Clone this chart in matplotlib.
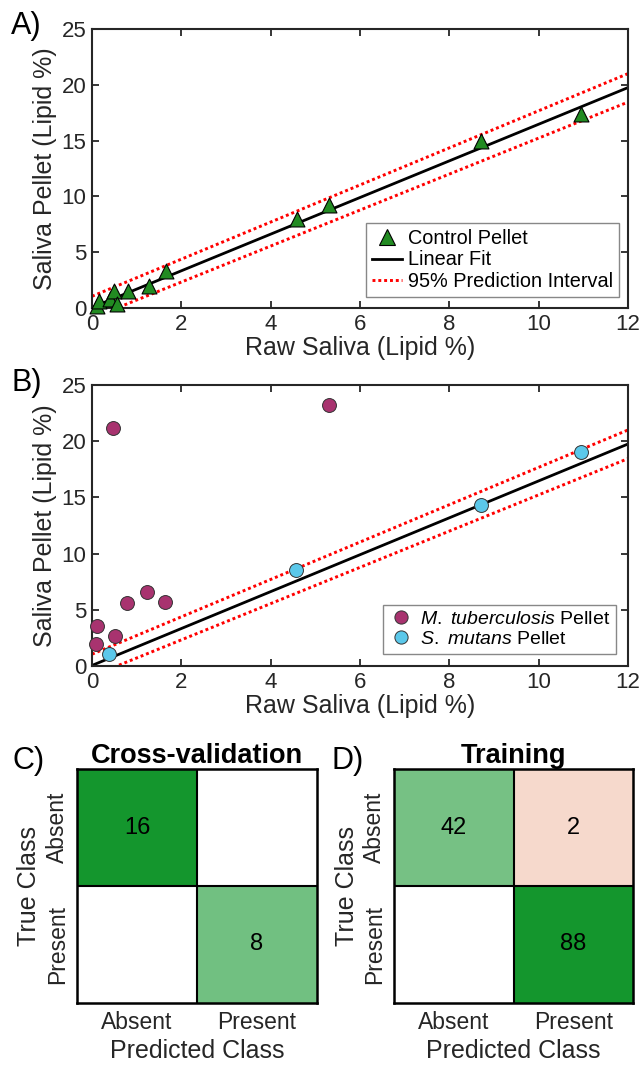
import numpy as np
import matplotlib
matplotlib.use("Agg")
import matplotlib.pyplot as plt
from matplotlib.lines import Line2D

plt.rcParams['font.family'] = ['Liberation Sans', 'DejaVu Sans']
plt.rcParams['mathtext.fontset'] = 'custom'
plt.rcParams['mathtext.it'] = 'Liberation Sans:italic'
plt.rcParams['mathtext.rm'] = 'Liberation Sans'

# ---------------- data ----------------
ctrl_x = [0.12, 0.15, 0.40, 0.50, 0.55, 0.80, 1.28, 1.65, 4.60, 5.30, 8.70, 10.95]
ctrl_y = [0.20, 0.60, 0.80, 1.50, 0.40, 1.50, 2.00, 3.35, 7.95, 9.20, 15.00, 17.40]

fit_x = [0, 12]
fit_y = [0.05, 19.75]
pi_upper = [1.05, 21.00]
pi_lower = [-0.90, 18.45]

mtb_x = [0.12, 0.10, 0.52, 0.79, 1.24, 1.63, 0.47, 5.30]
mtb_y = [3.59, 1.93, 2.70, 5.58, 6.61, 5.72, 21.15, 23.20]

smut_x = [0.38, 4.57, 8.70, 10.94]
smut_y = [1.07, 8.54, 14.30, 19.07]

class_labels = ["Absent", "Present"]
cm_cv = [[16, 0], [0, 8]]
cm_train = [[42, 2], [0, 88]]

x_ticks = [0, 2, 4, 6, 8, 10, 12]
y_ticks = [0, 5, 10, 15, 20, 25]

# ---------------- styles ----------------
GREEN_M = '#228B22'
PURPLE = '#A8336F'
CYAN = '#5BC8EA'
DIAG = np.array([20, 150, 45]) / 255.0
OFFD = np.array([217, 83, 25]) / 255.0
DOTS = (0, (1, 1))

W, H = 641, 1065
fig = plt.figure(figsize=(W / 100, H / 100), dpi=100)

def box(l, t, r, b):
    return [l / W, 1 - b / H, (r - l) / W, (b - t) / H]

TICK_FS = 16
LAB_FS = 18
LEG_FS = 14.3
PANEL_FS = 22

def style_scatter_ax(ax):
    ax.set_xlim(0, 12)
    ax.set_ylim(0, 25)
    ax.set_xticks(x_ticks)
    ax.set_yticks(y_ticks)
    ax.tick_params(direction='in', top=True, right=True, length=5, width=1.3,
                   labelsize=TICK_FS, colors='#262626', pad=4)
    for s in ax.spines.values():
        s.set_linewidth(1.5)
        s.set_color('#262626')
    ax.set_xlabel('Raw Saliva (Lipid %)', fontsize=LAB_FS, color='#262626', labelpad=1)
    ax.set_ylabel('Saliva Pellet (Lipid %)', fontsize=LAB_FS, color='#262626', labelpad=3)

def draw_fit(ax):
    ax.plot(fit_x, fit_y, color='black', lw=2.0, zorder=2)
    ax.plot(fit_x, pi_upper, color='red', lw=2.1, ls=DOTS, zorder=2)
    ax.plot(fit_x, pi_lower, color='red', lw=2.1, ls=DOTS, zorder=2)

# ---- Panel A ----
axA = fig.add_axes(box(92, 29, 628, 308))
draw_fit(axA)
axA.scatter(ctrl_x, ctrl_y, marker='^', s=115, c=GREEN_M, edgecolors='black',
            linewidths=0.8, zorder=3, clip_on=False)
style_scatter_ax(axA)
hA = [Line2D([], [], marker='^', ls='none', markersize=11, markerfacecolor=GREEN_M,
             markeredgecolor='black', markeredgewidth=0.8),
      Line2D([], [], color='black', lw=2.0),
      Line2D([], [], color='red', lw=2.1, ls=DOTS)]
legA = axA.legend(hA, ['Control Pellet', 'Linear Fit', '95% Prediction Interval'],
                  loc='lower right', bbox_to_anchor=(0.983, 0.04), fontsize=LEG_FS,
                  frameon=True, fancybox=False, edgecolor='#888888', framealpha=1,
                  handlelength=1.5, handletextpad=0.3, labelspacing=0.12,
                  borderpad=0.3, borderaxespad=0)
legA.get_frame().set_linewidth(1.0)

# ---- Panel B ----
axB = fig.add_axes(box(92, 385, 628, 666))
draw_fit(axB)
axB.scatter(mtb_x, mtb_y, marker='o', s=100, c=PURPLE, edgecolors='#333333',
            linewidths=0.7, zorder=3, clip_on=False)
axB.scatter(smut_x, smut_y, marker='o', s=100, c=CYAN, edgecolors='#333333',
            linewidths=0.7, zorder=3, clip_on=False)
style_scatter_ax(axB)
hB = [Line2D([], [], marker='o', ls='none', markersize=9.5, markerfacecolor=PURPLE,
             markeredgecolor='#333333', markeredgewidth=0.7),
      Line2D([], [], marker='o', ls='none', markersize=9.5, markerfacecolor=CYAN,
             markeredgecolor='#333333', markeredgewidth=0.7)]
legB = axB.legend(hB, [r'$\it{M.\ tuberculosis}$ Pellet', r'$\it{S.\ mutans}$ Pellet'],
                  loc='lower right', bbox_to_anchor=(0.978, 0.043), fontsize=LEG_FS - 0.3,
                  frameon=True, fancybox=False, edgecolor='#888888', framealpha=1,
                  handlelength=1.2, handletextpad=0.4, labelspacing=0.12,
                  borderpad=0.3, borderaxespad=0)
legB.get_frame().set_linewidth(1.0)

# ---- Confusion matrices ----
def cell_colors(cm):
    cm = np.asarray(cm, dtype=float)
    vmax = cm.max()
    img = np.ones(cm.shape + (3,))
    for i in range(cm.shape[0]):
        for j in range(cm.shape[1]):
            v = cm[i, j]
            if v <= 0:
                continue
            a = 0.2 + 0.8 * v / vmax
            base = DIAG if i == j else OFFD
            img[i, j] = (1 - a) * np.ones(3) + a * base
    return img

def draw_cm(ax, cm, title):
    n = len(class_labels)
    ax.imshow(cell_colors(cm), extent=(-0.5, n - 0.5, n - 0.5, -0.5), aspect='auto',
              interpolation='nearest')
    for k in range(1, n):
        ax.axhline(k - 0.5, color='black', lw=1.5)
        ax.axvline(k - 0.5, color='black', lw=1.5)
    for i in range(n):
        for j in range(n):
            if cm[i][j] > 0:
                ax.text(j, i, str(cm[i][j]), ha='center', va='center',
                        fontsize=17, color='black')
    ax.set_xlim(-0.5, n - 0.5)
    ax.set_ylim(n - 0.5, -0.5)
    ax.set_xticks(range(n))
    ax.set_yticks(range(n))
    ax.set_xticklabels(class_labels, fontsize=16.5, color='#262626')
    ax.set_yticklabels(class_labels, fontsize=16.5, color='#262626',
                       rotation=90, va='center')
    ax.tick_params(axis='x', length=0, pad=6)
    ax.tick_params(axis='y', length=0, pad=6)
    for s in ax.spines.values():
        s.set_linewidth(1.8)
        s.set_color('black')
    ax.set_xlabel('Predicted Class', fontsize=LAB_FS, color='#262626', labelpad=3)
    ax.set_ylabel('True Class', fontsize=LAB_FS, color='#262626', labelpad=3)
    ax.set_title(title, fontsize=19.5, fontweight='bold', pad=3)

axC = fig.add_axes(box(77, 769, 317, 1003))
draw_cm(axC, cm_cv, 'Cross-validation')
axD = fig.add_axes(box(394, 769, 633, 1003))
draw_cm(axD, cm_train, 'Training')

# ---- panel letters ----
for lab, x, y in [('A)', 11, 11), ('B)', 11, 368), ('C)', 12, 746), ('D)', 331, 746)]:
    fig.text(x / W, 1 - y / H, lab, fontsize=PANEL_FS, va='top', ha='left')

fig.savefig('out.png', dpi=100)
